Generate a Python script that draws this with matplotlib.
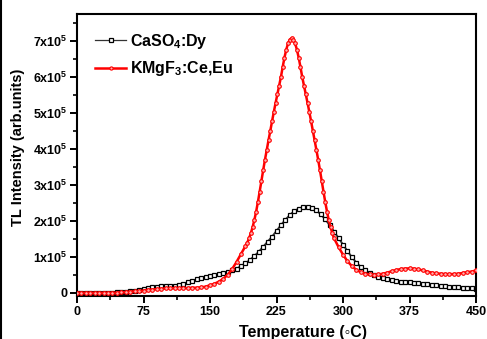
import matplotlib
matplotlib.use("Agg")
import matplotlib.pyplot as plt
from matplotlib.lines import Line2D
from matplotlib.ticker import FuncFormatter, MultipleLocator
import numpy as np

plt.rcParams["font.family"] = ["Liberation Sans", "DejaVu Sans"]
plt.rcParams["font.weight"] = "bold"
plt.rcParams["mathtext.fontset"] = "custom"
plt.rcParams["mathtext.rm"] = "Liberation Sans:bold"
plt.rcParams["mathtext.it"] = "Liberation Sans:bold"
plt.rcParams["mathtext.bf"] = "Liberation Sans:bold"

SCALE = 1e5  # intensities below are in units of 1e5

# CaSO4:Dy
TEMP_CASO4 = [
    0, 5, 10, 15, 20, 25, 30, 35, 40, 45, 50, 55, 60, 65, 70, 75, 80, 85, 90, 95,
    100, 105, 110, 115, 120, 125, 130, 135, 140, 145, 150, 155, 160, 165, 170, 175,
    180, 185, 190, 195, 200, 205, 210, 215, 220, 225, 230, 235, 240, 245, 250, 255,
    260, 265, 270, 275, 280, 285, 290, 295, 300, 305, 310, 315, 320, 325, 330, 335,
    340, 345, 350, 355, 360, 365, 370, 375, 380, 385, 390, 395, 400, 405, 410, 415,
    420, 425, 430, 435, 440, 445, 450,
]
TL_CASO4 = [
    0.00, 0.00, 0.00, 0.00, 0.00, 0.00, 0.00, 0.00, 0.00, 0.01, 0.02, 0.03, 0.04, 0.06,
    0.08, 0.10, 0.13, 0.15, 0.17, 0.18, 0.18, 0.19, 0.20, 0.22, 0.25, 0.29, 0.33, 0.37,
    0.41, 0.44, 0.46, 0.48, 0.51, 0.54, 0.58, 0.62, 0.67, 0.74, 0.82, 0.91, 1.02, 1.14,
    1.28, 1.42, 1.56, 1.72, 1.88, 2.03, 2.16, 2.27, 2.34, 2.38, 2.39, 2.36, 2.29, 2.18,
    2.04, 1.88, 1.70, 1.52, 1.34, 1.16, 0.99, 0.84, 0.72, 0.62, 0.54, 0.48, 0.44, 0.40,
    0.37, 0.35, 0.33, 0.31, 0.30, 0.29, 0.28, 0.26, 0.25, 0.24, 0.22, 0.21, 0.19, 0.18,
    0.17, 0.16, 0.15, 0.14, 0.13, 0.12, 0.11,
]

# KMgF3:Ce,Eu
TEMP_KMGF3 = [
    0, 5, 10, 15, 20, 25, 30, 35, 40, 45, 50, 55, 60, 65, 70, 75, 80, 85, 90, 95,
    100, 105, 110, 115, 120, 125, 130, 135, 140, 145, 150, 155, 160, 165, 170, 175,
    180, 185, 190, 192, 194, 196, 198, 200, 202, 204, 206, 208, 210, 212, 214, 216,
    218, 220, 222, 224, 226, 228, 230, 232, 234, 236, 238, 240, 242, 244, 246, 248,
    250, 252, 254, 256, 258, 260, 262, 264, 266, 268, 270, 272, 274, 276, 278, 280,
    282, 284, 286, 288, 290, 295, 300, 305, 310, 315, 320, 325, 330, 335, 340, 345,
    350, 355, 360, 365, 370, 375, 380, 385, 390, 395, 400, 405, 410, 415, 420, 425,
    430, 435, 440, 445, 450,
]
TL_KMGF3 = [
    0.00, 0.00, 0.00, 0.00, 0.00, 0.00, 0.00, 0.00, 0.00, 0.00, 0.01, 0.02, 0.03, 0.04,
    0.05, 0.06, 0.08, 0.09, 0.10, 0.11, 0.12, 0.12, 0.13, 0.13, 0.13, 0.13, 0.14, 0.14,
    0.15, 0.17, 0.21, 0.25, 0.31, 0.39, 0.50, 0.66, 0.86, 1.08, 1.30, 1.39, 1.51, 1.65,
    1.82, 2.02, 2.25, 2.52, 2.81, 3.11, 3.41, 3.70, 3.97, 4.24, 4.50, 4.77, 5.03, 5.28,
    5.52, 5.76, 6.00, 6.28, 6.54, 6.76, 6.93, 7.04, 7.08, 7.04, 6.93, 6.76, 6.54, 6.28,
    6.00, 5.76, 5.52, 5.28, 5.03, 4.77, 4.50, 4.24, 3.97, 3.70, 3.41, 3.11, 2.81, 2.52,
    2.25, 2.02, 1.82, 1.65, 1.51, 1.27, 1.06, 0.88, 0.74, 0.64, 0.57, 0.53, 0.51, 0.50,
    0.51, 0.53, 0.56, 0.60, 0.63, 0.66, 0.67, 0.68, 0.67, 0.65, 0.62, 0.59, 0.56, 0.54,
    0.53, 0.52, 0.52, 0.52, 0.53, 0.55, 0.57, 0.59, 0.62,
]

W, H = 487, 339
fig = plt.figure(figsize=(W / 100, H / 100), dpi=100)
ax = fig.add_axes([77 / W, 1 - 296 / H, (476 - 77) / W, (296 - 14) / H])

ax.plot(TEMP_CASO4, np.array(TL_CASO4) * SCALE, color="#333333", lw=1.4,
        marker="s", ms=3.0, mfc="white", mec="black", mew=0.9,
        label=r"CaSO$_4$:Dy", zorder=2)
ax.plot(TEMP_KMGF3, np.array(TL_KMGF3) * SCALE, color="red", lw=1.8,
        marker="o", ms=2.6, mfc="#ffb0b0", mec="red", mew=0.8,
        label=r"KMgF$_3$:Ce,Eu", zorder=3)

ax.set_xlim(0, 450)
ax.set_ylim(-9000, 775000)
ax.xaxis.set_major_locator(MultipleLocator(75))
ax.xaxis.set_minor_locator(MultipleLocator(37.5))
ax.yaxis.set_major_locator(MultipleLocator(1e5))
ax.yaxis.set_minor_locator(MultipleLocator(0.5e5))


def ylab(v, pos):
    n = int(round(v / 1e5))
    return "0" if n == 0 else rf"{n}x10$^5$"


ax.yaxis.set_major_formatter(FuncFormatter(ylab))
ax.tick_params(which="major", direction="out", length=5, width=1.4, labelsize=9, pad=2)
ax.tick_params(which="minor", direction="out", length=3, width=1.2)
for lab in ax.get_xticklabels() + ax.get_yticklabels():
    lab.set_fontweight("bold")
for s in ax.spines.values():
    s.set_linewidth(1.5)

leg = ax.legend(loc="upper left", bbox_to_anchor=(0.03, 0.96), frameon=False,
                fontsize=11.5, handlelength=1.9, handletextpad=0.3,
                labelspacing=0.55, borderaxespad=0)
leg.get_lines()[0].set_linewidth(0.9)
leg.get_lines()[0].set_markersize(2.3)
leg.get_lines()[1].set_markersize(2.3)

fig.text(303 / W, 2 / H, "Temperature (\u25e6C)", ha="center", va="baseline",
         fontsize=11.5, fontweight="bold")
fig.text(18 / W, 1 - 147 / H, "TL Intensity (arb.units)", rotation=90,
         ha="center", va="center", fontsize=10.5, fontweight="bold")

fig.add_artist(Line2D([1 / W, 1 / W], [0, 1], color="black", lw=1.5,
                      transform=fig.transFigure))

fig.savefig("out.png", dpi=100)
